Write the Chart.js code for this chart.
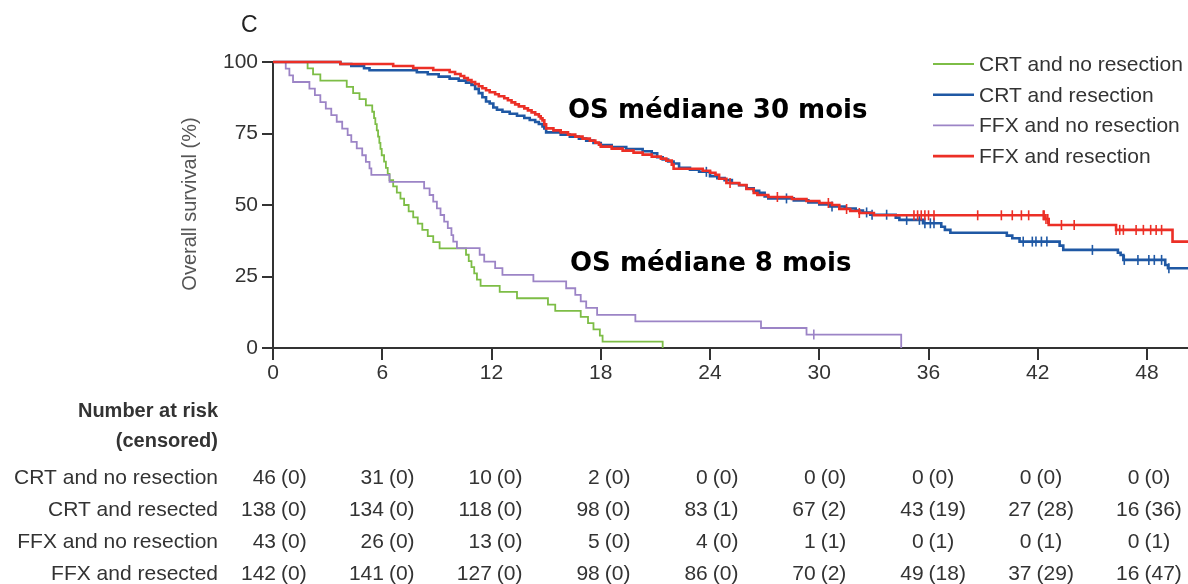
<!DOCTYPE html>
<html>
<head>
<meta charset="utf-8">
<title>Overall survival</title>
<script src="https://cdn.jsdelivr.net/npm/chart.js@4.4.0/dist/chart.umd.min.js"></script>
<style>
  html, body { margin: 0; padding: 0; background: #fff; }
  #wrap { width: 1188px; height: 584px; }
</style>
</head>
<body>
<div id="wrap"><canvas id="km" width="1188" height="584"></canvas></div>
<script>
// Kaplan-Meier curves: [month, survival %], value holds until the next step
const crtNoResection = [[0,100],[1.9,97.8],[2.2,95.7],[2.6,93.5],[4.05,91.3],[4.4,89.1],[4.75,87.0],[5.1,84.8],[5.45,82.6],
  [5.55,80.4],[5.62,78.3],[5.7,76.1],[5.77,73.9],[5.84,71.7],[5.9,69.6],[5.97,67.4],[6.1,65.2],[6.2,63.0],[6.3,60.9],[6.4,58.7],
  [6.6,56.5],[6.8,54.3],[7.0,52.2],[7.2,50.0],[7.45,47.8],[7.7,45.7],[7.95,43.5],[8.2,41.3],[8.5,39.1],[8.8,37.0],[9.15,34.8],
  [10.6,32.6],[10.75,30.4],[10.9,28.3],[11.05,26.1],[11.2,23.9],[11.4,21.7],[12.45,19.6],[13.4,17.4],[15.1,15.2],[15.5,13.0],
  [16.9,10.9],[17.3,8.7],[17.6,6.5],[17.95,4.3],[18.1,2.2],[21.4,0]];
const crtResection = [[0,100],[3.7,99.3],[4.3,98.6],[5.0,97.8],[5.3,97.1],[7.9,96.4],[8.5,95.7],[9.1,94.9],[9.7,94.2],[10.2,93.5],
  [10.6,92.8],[10.9,92.0],[11.1,90.6],[11.3,89.1],[11.5,87.7],[11.7,86.2],[11.9,85.5],[12.1,84.1],[12.3,83.3],[12.6,82.6],
  [13.0,81.9],[13.4,81.2],[13.8,80.4],[14.1,79.7],[14.4,79.0],[14.6,78.3],[14.8,77.5],[14.9,76.8],[15.0,75.4],[15.8,74.6],
  [16.3,73.9],[16.8,73.2],[17.2,72.5],[17.6,71.7],[18.0,71.0],[18.6,70.3],[19.4,69.6],[20.3,68.8],[20.8,68.1],[21.1,66.7],
  [21.4,65.9],[21.7,65.2],[22.0,64.5],[22.3,63.0],[22.9,62.3],[23.4,61.6],[24.0,60.1],[24.4,59.4],[24.8,58.7],[25.2,57.6],
  [25.6,56.9],[26.0,55.8],[26.4,55.0],[26.7,54.3],[27.0,53.0],[27.2,52.3],[28.6,51.6],[29.4,50.9],[30.0,50.2],[30.6,49.5],
  [31.4,48.8],[32.0,48.1],[32.4,47.4],[32.8,46.6],[34.2,45.6],[34.4,44.8],[35.7,43.6],[36.7,42.4],[36.9,41.3],[37.2,40.3],
  [40.3,39.3],[40.6,38.4],[41.0,37.2],[43.2,35.8],[43.4,34.3],[46.4,33.3],[46.55,32.5],[46.7,30.8],[49.0,29.0],[49.15,27.9],[50.25,27.9]];
const ffxNoResection = [[0,100],[0.7,97.7],[0.9,95.3],[1.1,93.0],[2.0,90.7],[2.3,88.4],[2.6,86.0],[2.9,83.7],[3.2,81.4],[3.5,79.1],
  [3.8,76.7],[4.1,74.4],[4.3,72.1],[4.6,69.8],[4.9,67.4],[5.1,65.1],[5.3,62.8],[5.4,60.5],[6.4,58.1],[8.3,55.8],[8.6,53.5],
  [8.8,51.2],[9.0,48.8],[9.2,46.5],[9.4,44.2],[9.6,41.9],[9.8,39.5],[9.9,37.2],[10.1,34.9],[11.35,32.6],[11.6,30.2],[12.2,27.9],
  [12.6,25.6],[14.3,23.3],[16.1,20.9],[16.6,18.6],[16.9,16.3],[17.2,14.0],[17.8,11.6],[19.9,9.3],[26.8,7.0],[29.3,4.7],[34.5,0]];
const ffxResection = [[0,100],[3.7,99.3],[6.6,98.6],[7.7,97.9],[8.8,97.2],[9.7,96.5],[10.0,95.8],[10.3,95.1],[10.5,94.4],[10.7,93.7],
  [10.9,93.0],[11.1,92.3],[11.3,91.5],[11.5,90.8],[11.7,90.1],[11.9,89.4],[12.2,88.7],[12.4,88.0],[12.7,87.3],[12.9,86.6],
  [13.1,85.9],[13.3,85.2],[13.5,84.5],[13.8,83.8],[14.0,83.1],[14.2,82.4],[14.4,81.7],[14.6,81.0],[14.7,80.3],[14.8,79.6],
  [14.9,78.2],[15.0,76.8],[15.4,76.1],[15.8,75.4],[16.2,74.6],[16.6,73.9],[17.0,73.2],[17.4,72.5],[17.7,71.8],[17.9,71.1],
  [18.0,70.4],[18.6,69.7],[19.2,69.0],[19.8,68.3],[20.3,67.6],[20.8,66.9],[21.3,66.2],[21.6,65.5],[21.9,64.1],[22.0,62.7],
  [23.6,62.0],[24.0,61.3],[24.3,60.6],[24.5,59.2],[24.9,57.7],[25.6,57.0],[26.0,55.6],[26.4,54.2],[26.6,53.5],[27.2,52.8],
  [28.5,52.1],[29.3,51.4],[30.0,50.7],[30.7,50.0],[31.1,48.6],[31.7,47.9],[32.2,47.2],[33.0,46.4],[42.4,45.1],[42.6,43.0],
  [46.3,41.3],[49.4,37.2],[50.25,37.2]];

// censoring times (months)
const crtNoResectionCens = [];
const crtResectionCens = [23.8,28.2,30.7,32.6,32.9,33.7,34.8,35.5,35.8,36.1,36.3,41.2,41.7,41.9,42.2,42.5,45.0,46.75,47.5,48.1,48.4,48.8,49.2];
const ffxNoResectionCens = [29.7];
const ffxResectionCens = [25.1,27.7,30.5,31.5,32.2,35.2,35.4,35.6,35.8,36.0,36.3,38.7,40.0,40.6,41.1,41.5,42.3,42.35,42.45,42.55,
  43.3,44.0,46.3,46.5,46.7,47.4,47.8,48.2,48.5,48.8];

const monthTicks = [0, 6, 12, 18, 24, 30, 36, 42, 48];
const survivalTicks = [0, 25, 50, 75, 100];

// number at risk (censored) under each month tick
const riskCrtNoRes = [46, 31, 10, 2, 0, 0, 0, 0, 0];
const censCrtNoRes = [0, 0, 0, 0, 0, 0, 0, 0, 0];
const riskCrtRes = [138, 134, 118, 98, 83, 67, 43, 27, 16];
const censCrtRes = [0, 0, 0, 0, 1, 2, 19, 28, 36];
const riskFfxNoRes = [43, 26, 13, 5, 4, 1, 0, 0, 0];
const censFfxNoRes = [0, 0, 0, 0, 0, 1, 1, 1, 1];
const riskFfxRes = [142, 141, 127, 98, 86, 70, 49, 37, 16];
const censFfxRes = [0, 0, 0, 0, 0, 2, 18, 29, 47];

const FONT = '"Liberation Sans", Arial, sans-serif';
const groups = [
  { label: 'CRT and no resection', curve: crtNoResection, cens: crtNoResectionCens, color: '#7dbd46', width: 1.8, order: 3, risk: riskCrtNoRes, rc: censCrtNoRes },
  { label: 'CRT and resection', curve: crtResection, cens: crtResectionCens, color: '#1f58a4', width: 2.6, order: 1, risk: riskCrtRes, rc: censCrtRes },
  { label: 'FFX and no resection', curve: ffxNoResection, cens: ffxNoResectionCens, color: '#9c84c6', width: 1.8, order: 2, risk: riskFfxNoRes, rc: censFfxNoRes },
  { label: 'FFX and resection', curve: ffxResection, cens: ffxResectionCens, color: '#ec2f26', width: 2.6, order: 0, risk: riskFfxRes, rc: censFfxRes }
];
const rowLabels = ['CRT and no resection', 'CRT and resected', 'FFX and no resection', 'FFX and resected'];

function survivalAt(curve, t) {
  var s = curve[0][1];
  for (var p of curve) {
    if (p[0] <= t) s = p[1]; else break;
  }
  return s;
}

var datasets = [];
for (var g of groups) {
  datasets.push({
    label: g.label,
    data: g.curve.map(p => ({ x: p[0], y: p[1] })),
    borderColor: g.color,
    borderWidth: g.width,
    stepped: 'before',
    pointRadius: 0,
    fill: false,
    order: g.order,
    clip: false
  });
  datasets.push({
    label: g.label + ' censored',
    data: g.cens.map(t => ({ x: t, y: survivalAt(g.curve, t) })),
    showLine: false,
    pointStyle: 'line',
    rotation: 90,
    pointRadius: 5,
    pointBorderWidth: 1.6,
    borderColor: g.color,
    pointBorderColor: g.color,
    order: g.order,
    clip: false
  });
}

const decorations = {
  id: 'decorations',
  afterDraw(chart) {
    const ctx = chart.ctx;
    const x = chart.scales.x;
    ctx.save();
    // panel letter
    ctx.fillStyle = '#222';
    ctx.font = '23px ' + FONT;
    ctx.textAlign = 'left';
    ctx.textBaseline = 'alphabetic';
    ctx.fillText('C', 241, 32);

    // y axis title
    ctx.save();
    ctx.translate(190, 204);
    ctx.rotate(-Math.PI / 2);
    ctx.fillStyle = '#555';
    ctx.font = '20px ' + FONT;
    ctx.textAlign = 'center';
    ctx.textBaseline = 'middle';
    ctx.fillText('Overall survival (%)', 0, 0);
    ctx.restore();

    // legend
    ctx.font = '21px ' + FONT;
    ctx.textAlign = 'left';
    groups.forEach((g, i) => {
      var base = 71 + i * 30.7;
      ctx.strokeStyle = g.color;
      ctx.lineWidth = g.width;
      ctx.beginPath();
      ctx.moveTo(933, base - 7);
      ctx.lineTo(974, base - 7);
      ctx.stroke();
      ctx.fillStyle = '#333';
      ctx.fillText(g.label, 979, base);
    });

    // median annotations
    ctx.fillStyle = '#000';
    ctx.font = 'bold 26px "DejaVu Sans", sans-serif';
    ctx.fillText('OS médiane 30 mois', 568, 118);
    ctx.fillText('OS médiane 8 mois', 570, 271);

    // number at risk table
    ctx.fillStyle = '#333';
    ctx.textAlign = 'right';
    ctx.font = 'bold 20px ' + FONT;
    ctx.fillText('Number at risk', 218, 417);
    ctx.fillText('(censored)', 218, 447);
    ctx.font = '21px ' + FONT;
    groups.forEach((g, i) => {
      var base = 484 + i * 32;
      ctx.textAlign = 'right';
      ctx.fillText(rowLabels[i], 218, base);
      monthTicks.forEach((m, j) => {
        var anchor = x.getPixelForValue(m) + 3 - 0.22 * m;
        ctx.textAlign = 'right';
        ctx.fillText(String(g.risk[j]), anchor, base);
        ctx.textAlign = 'left';
        ctx.fillText('(' + g.rc[j] + ')', anchor + 5, base);
      });
    });
    ctx.restore();
  }
};

new Chart(document.getElementById('km'), {
  type: 'line',
  data: { datasets: datasets },
  options: {
    responsive: false,
    animation: false,
    devicePixelRatio: 1,
    events: [],
    layout: { autoPadding: false, padding: { top: 62, left: 0, right: 0, bottom: 0 } },
    plugins: { legend: { display: false }, tooltip: { enabled: false } },
    scales: {
      x: {
        type: 'linear',
        min: 0,
        max: 50.25,
        afterBuildTicks: s => { s.ticks = monthTicks.map(v => ({ value: v })); },
        afterFit: s => { s.height = 236; },
        grid: { drawOnChartArea: false, drawTicks: true, tickLength: 12, color: '#333', lineWidth: 2 },
        border: { display: true, color: '#333', width: 2 },
        ticks: { font: { family: FONT, size: 21 }, color: '#333', padding: 1, maxRotation: 0 }
      },
      y: {
        type: 'linear',
        min: 0,
        max: 100,
        afterBuildTicks: s => { s.ticks = survivalTicks.map(v => ({ value: v })); },
        afterFit: s => { s.width = 273; },
        grid: { drawOnChartArea: false, drawTicks: true, tickLength: 11, color: '#333', lineWidth: 2 },
        border: { display: true, color: '#333', width: 2 },
        ticks: { font: { family: FONT, size: 21 }, color: '#333', padding: 4 }
      }
    }
  },
  plugins: [decorations]
});
</script>
</body>
</html>
